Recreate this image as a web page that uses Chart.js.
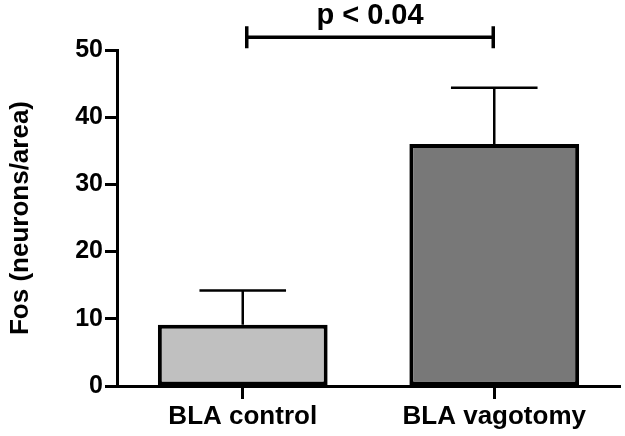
<!DOCTYPE html>
<html>
<head>
<meta charset="utf-8">
<script src="https://cdn.jsdelivr.net/npm/chart.js@4.4.1/dist/chart.umd.min.js"></script>
<style>
  html, body { margin: 0; padding: 0; background: #ffffff; }
  #wrap { width: 625px; height: 436px; }
</style>
</head>
<body>
<div id="wrap"><canvas id="c" width="625" height="436"></canvas></div>
<script>
// ---- data ----
const categories = ["BLA control", "BLA vagotomy"];
const means = [9.1, 36.0];
const sems = [5.1, 8.4];
const barColors = ["#c0c0c0", "#787878"];
const yTicks = [0, 10, 20, 30, 40, 50];
const yTitle = "Fos (neurons/area)";
const sigLabel = "p < 0.04";
const sigPair = [0, 1];
const sigLevel = 51.9; // bracket height in data units (above axis max)

const FONT = "'Liberation Sans', Arial, Helvetica, sans-serif";

const errorBarPlugin = {
  id: 'errorBars',
  afterDatasetsDraw(chart) {
    const ctx = chart.ctx;
    const x = chart.scales.x, y = chart.scales.y;
    const meta = chart.getDatasetMeta(0);
    ctx.save();
    ctx.strokeStyle = '#000';
    ctx.lineWidth = 2.5;
    ctx.lineCap = 'butt';
    meta.data.forEach((bar, i) => {
      const cx = x.getPixelForValue(i);
      const yTop = y.getPixelForValue(means[i]);
      const yErr = y.getPixelForValue(means[i] + sems[i]);
      const half = bar.width * 0.255;
      ctx.beginPath();
      ctx.moveTo(cx, yTop);
      ctx.lineTo(cx, yErr);
      ctx.moveTo(cx - half, yErr);
      ctx.lineTo(cx + half, yErr);
      ctx.stroke();
    });
    // significance bracket
    const x1 = x.getPixelForValue(sigPair[0]) + 4;
    const x2 = x.getPixelForValue(sigPair[1]) - 1;
    const yb = y.getPixelForValue(sigLevel);
    ctx.lineWidth = 3.5;
    ctx.beginPath();
    ctx.moveTo(x1, yb); ctx.lineTo(x2, yb);
    ctx.moveTo(x1, yb - 11); ctx.lineTo(x1, yb + 11);
    ctx.moveTo(x2, yb - 11); ctx.lineTo(x2, yb + 11);
    ctx.stroke();
    ctx.fillStyle = '#000';
    ctx.font = "bold 29px " + FONT;
    ctx.textAlign = 'center';
    ctx.textBaseline = 'alphabetic';
    ctx.fillText(sigLabel, (x1 + x2) / 2, yb - 13);
    ctx.restore();
  }
};

new Chart(document.getElementById('c'), {
  type: 'bar',
  data: {
    labels: categories,
    datasets: [{
      data: means,
      backgroundColor: barColors,
      borderColor: '#000',
      borderWidth: 4,
      borderSkipped: false,
      categoryPercentage: 1.0,
      barPercentage: 0.675
    }]
  },
  options: {
    responsive: false,
    devicePixelRatio: 1,
    animation: false,
    layout: { padding: { top: 50, right: 5, left: 0, bottom: 0 } },
    plugins: { legend: { display: false }, tooltip: { enabled: false } },
    scales: {
      x: {
        grid: { display: true, offset: false, drawOnChartArea: false, tickLength: 13, tickWidth: 3, tickColor: '#000' },
        border: { display: true, width: 3, color: '#000' },
        ticks: { color: '#000', font: { family: FONT, size: 26, weight: 'bold' }, padding: 2 },
        afterFit(s) { s.height = 50; }
      },
      y: {
        min: 0, max: 50,
        afterBuildTicks(s) { s.ticks = yTicks.map(v => ({ value: v })); },
        grid: { display: true, drawOnChartArea: false, tickLength: 12, tickWidth: 3, tickColor: '#000' },
        border: { display: true, width: 3, color: '#000' },
        ticks: { color: '#000', font: { family: FONT, size: 25, weight: 'bold' }, padding: 2 },
        title: { display: true, text: yTitle, color: '#000', font: { family: FONT, size: 26, weight: 'bold' }, padding: { top: 5, bottom: 0 } },
        afterFit(s) { s.width = 117; }
      }
    }
  },
  plugins: [errorBarPlugin]
});
</script>
</body>
</html>
